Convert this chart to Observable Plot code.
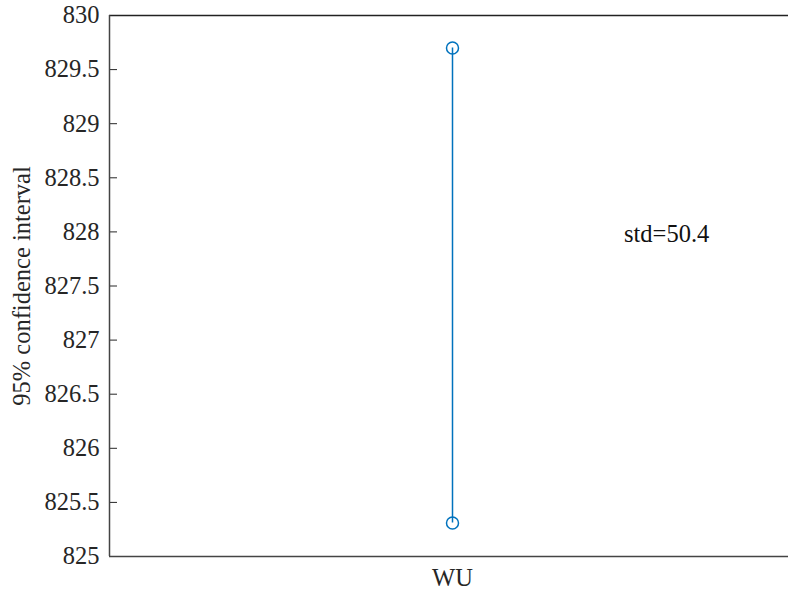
<!DOCTYPE html>
<html>
<head>
<meta charset="utf-8">
<script src="https://cdn.jsdelivr.net/npm/d3@7"></script>
<script src="https://cdn.jsdelivr.net/npm/@observablehq/plot@0.6"></script>
<style>
  html, body { margin: 0; padding: 0; background: #fff; overflow: hidden; width: 788px; height: 601px; }
  #chart { width: 788px; height: 601px; overflow: hidden; }
  #chart svg { max-width: none !important; }
  #chart svg text { font-family: 'Liberation Serif', 'Times New Roman', serif !important; font-variant: normal !important; }
</style>
</head>
<body>
<div id="chart"></div>
<script>
const categories = ["WU"];
const categoryPos = [1];
const lower = [825.31];
const upper = [829.70];
const yDomain = [825, 830];
const xDomain = [0.5, 1.5];
const yTicks = [825, 825.5, 826, 826.5, 827, 827.5, 828, 828.5, 829, 829.5, 830];
const rightTicks = [825.5, 826, 826.5, 827, 827.5, 828, 828.5, 829, 829.5];
const annotations = ["std=50.4"];
const annotationX = [1.25];
const annotationY = [828];
const yLabel = "95% confidence interval";

const bars = categories.map((c, i) => ({x: categoryPos[i], lo: lower[i], hi: upper[i]}));
const ends = bars.flatMap(b => [{x: b.x, y: b.lo}, {x: b.x, y: b.hi}]);
const notes = annotations.map((t, i) => ({x: annotationX[i], y: annotationY[i], t}));

const axisColor = "#262626";
const blue = "#0072BD";
const serif = "'Liberation Serif', 'Times New Roman', serif";

const chart = Plot.plot({
  width: 795,
  height: 601,
  marginTop: 15,
  marginBottom: 45,
  marginLeft: 109,
  marginRight: 0,
  style: {fontFamily: serif, fontSize: "24.5px", color: axisColor, background: "#fff", maxWidth: "none"},
  x: {type: "linear", domain: xDomain},
  y: {domain: yDomain},
  marks: [
    Plot.axisY(yTicks, {anchor: "left", tickSize: 8, dx: 8, tickPadding: 10, stroke: axisColor, fill: axisColor, label: null, fontFamily: serif, fontVariant: "normal", tickFormat: d => String(d)}),
    Plot.axisY(rightTicks, {anchor: "right", tickSize: 8, dx: -8, stroke: axisColor, fill: "none", label: null}),
    Plot.axisX(categoryPos, {anchor: "bottom", tickSize: 0, tickPadding: 12, fill: axisColor, label: null, fontFamily: serif, fontVariant: "normal", tickFormat: d => categories[categoryPos.indexOf(d)]}),
    Plot.ruleY([yDomain[1]], {stroke: "#222", strokeWidth: 1.3}),
    Plot.ruleY([yDomain[0]], {stroke: "#444", strokeWidth: 1.5}),
    Plot.ruleX([xDomain[0]], {stroke: "#444", strokeWidth: 1.5}),
    Plot.ruleX(bars, {x: "x", y1: "lo", y2: "hi", stroke: blue, strokeWidth: 1.5}),
    Plot.dot(ends, {x: "x", y: "y", r: 6, stroke: blue, strokeWidth: 1.5, fill: "none"}),
    Plot.text(notes, {x: "x", y: "y", text: "t", textAnchor: "start", lineAnchor: "middle", dy: 2, fill: "#111", fontFamily: serif}),
    Plot.text([yLabel], {frameAnchor: "left", rotate: -90, dx: -87, text: d => d, fill: axisColor, textAnchor: "middle", lineAnchor: "middle", fontFamily: serif})
  ]
});
document.getElementById("chart").appendChild(chart);
</script>
</body>
</html>
